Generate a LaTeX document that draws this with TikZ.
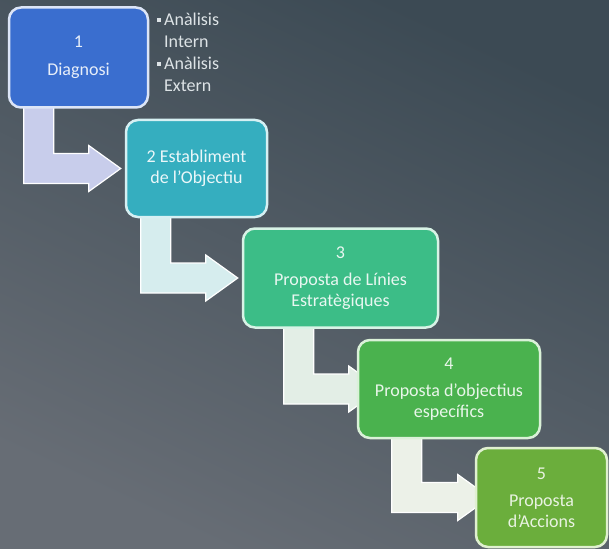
\documentclass[tikz,border=0pt]{standalone}
\usepackage{fontspec}
\setmainfont{Carlito}
\usetikzlibrary{calc}
\definecolor{bgtop}{HTML}{3C4A54}
\definecolor{bgbot}{HTML}{676D75}
\definecolor{cA}{HTML}{3A6ECF}\definecolor{lA}{HTML}{DCE5F7}
\definecolor{cB}{HTML}{35AEBF}\definecolor{lB}{HTML}{D6F0F3}
\definecolor{cC}{HTML}{3CBD87}\definecolor{lC}{HTML}{D8F3E6}
\definecolor{cD}{HTML}{4AB24E}\definecolor{lD}{HTML}{DAF1D8}
\definecolor{cE}{HTML}{6BAE3C}\definecolor{lE}{HTML}{E0F0D0}
\definecolor{aA}{HTML}{C8CDEB}
\definecolor{aB}{HTML}{D6EDEE}
\definecolor{aC}{HTML}{E3EEE6}
\definecolor{aD}{HTML}{ECF1E8}
\definecolor{bultext}{HTML}{DDE3E6}
\pgfdeclarelayer{bg}
\pgfdeclarelayer{arrowlayer}
\pgfsetlayers{bg,arrowlayer,main}
\newcommand\bsq{\rule[4pt]{3.5pt}{3.5pt}\hspace{3.5pt}}
\newcommand\bentarrow[5]{%
  \path[arrowbox, fill=#5] let \p1=($(#1.south west)+(#3,-3)$), \p2=($(#2.west)+(#4,0)$) in
  (\x1,\y1) -- (\x1+30pt,\y1) -- (\x1+30pt,\y2+15pt) -- (\x2-32pt,\y2+15pt)
  -- (\x2-32pt,\y2+23pt) -- (\x2,\y2) -- (\x2-32pt,\y2-23pt) -- (\x2-32pt,\y2-15pt)
  -- (\x1,\y2-15pt) -- cycle;}
\begin{document}
\begin{tikzpicture}[x=1pt,y=-1pt,
  stepbox/.style={rectangle, rounded corners=12pt, line width=2.5pt, align=center,
    inner sep=2pt, font=\fontsize{18}{20.5}\selectfont},
  arrowbox/.style={draw=white, line width=1.2pt, line join=miter},
  bullets/.style={align=left, inner sep=0pt, text=bultext, font=\fontsize{18}{22}\selectfont}]
\begin{pgfonlayer}{bg}
\shade[top color=bgtop, bottom color=bgbot, shading angle=-25] (0,0) rectangle (609,548);
\end{pgfonlayer}
\useasboundingbox (0,0) rectangle (609,548);

\node[stepbox, fill=cA, draw=lA, text=white!88!cA, minimum width=139pt, minimum height=100pt] (b1) at (78.5,57.5) {1\\[7pt]Diagnosi};
\node[stepbox, fill=cB, draw=lB, text=white!90!cB, minimum width=141pt, minimum height=97pt] (b2) at (196.5,168.5) {2 Establiment\\de l’Objectiu};
\node[stepbox, fill=cC, draw=lC, text=white!88!cC, minimum width=195pt, minimum height=99pt] (b3) at (340.5,278) {3\\[7pt]Proposta de Línies\\Estratègiques};
\node[stepbox, fill=cD, draw=lD, text=white!88!cD, minimum width=182pt, minimum height=98pt] (b4) at (449,389) {4\\[7pt]Proposta d’objectius\\específics};
\node[stepbox, fill=cE, draw=lE, text=white!85!cE, minimum width=131pt, minimum height=99pt] (b5) at (541.5,497.5) {5\\[7pt]Proposta\\d’Accions};

\node[bullets, anchor=north west] (bl) at (157,13) {\bsq Anàlisis\\\hspace*{7pt}Intern\\\bsq Anàlisis\\\hspace*{7pt}Extern};

\begin{pgfonlayer}{arrowlayer}
\bentarrow{b1}{b2}{16}{-4}{aA}
\bentarrow{b2}{b3}{16}{-4}{aB}
\bentarrow{b3}{b4}{42}{24}{aC}
\bentarrow{b4}{b5}{35}{15}{aD}
\end{pgfonlayer}
\end{tikzpicture}
\end{document}
